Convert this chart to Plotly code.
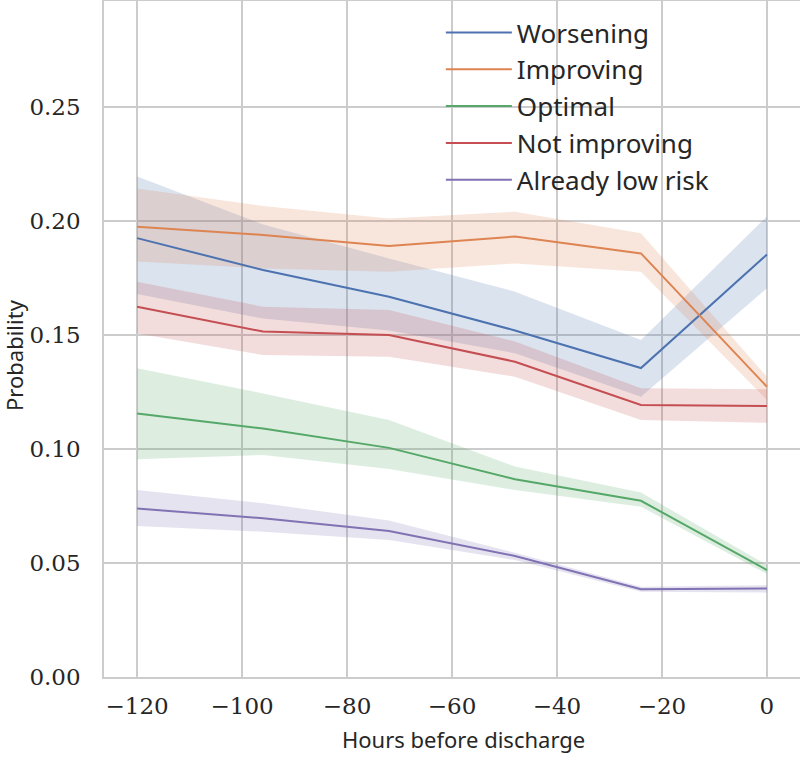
import plotly.graph_objects as go

hours = [-120, -96, -72, -48, -24, 0]

series_names = ["Worsening", "Improving", "Optimal", "Not improving", "Already low risk"]
colors = ["#4C72B0", "#DD8452", "#55A868", "#C44E52", "#8172B3"]
fills = ["rgba(76,114,176,0.2)", "rgba(221,132,82,0.2)", "rgba(85,168,104,0.2)",
         "rgba(196,78,82,0.2)", "rgba(129,114,179,0.2)"]

worsening = [0.1925, 0.1785, 0.1668, 0.1520, 0.1355, 0.1853]
worsening_hi = [0.2195, 0.1985, 0.1836, 0.1690, 0.1478, 0.2020]
worsening_lo = [0.1680, 0.1572, 0.1520, 0.1420, 0.1229, 0.1705]

improving = [0.1975, 0.1939, 0.1890, 0.1932, 0.1858, 0.1273]
improving_hi = [0.2143, 0.2066, 0.2011, 0.2041, 0.1946, 0.1317]
improving_lo = [0.1822, 0.1792, 0.1778, 0.1814, 0.1778, 0.1215]

optimal = [0.1156, 0.1090, 0.1005, 0.0867, 0.0773, 0.0469]
optimal_hi = [0.1354, 0.1244, 0.1127, 0.0923, 0.0809, 0.0491]
optimal_lo = [0.0955, 0.0974, 0.0912, 0.0820, 0.0747, 0.0452]

not_improving = [0.1624, 0.1515, 0.1500, 0.1383, 0.1193, 0.1189]
not_improving_hi = [0.1734, 0.1624, 0.1610, 0.1471, 0.1266, 0.1262]
not_improving_lo = [0.1507, 0.1412, 0.1405, 0.1317, 0.1127, 0.1115]

low_risk = [0.0739, 0.0696, 0.0640, 0.0531, 0.0385, 0.0388]
low_risk_hi = [0.0820, 0.0762, 0.0686, 0.0545, 0.0396, 0.0403]
low_risk_lo = [0.0662, 0.0637, 0.0601, 0.0513, 0.0374, 0.0370]

means = [worsening, improving, optimal, not_improving, low_risk]
his = [worsening_hi, improving_hi, optimal_hi, not_improving_hi, low_risk_hi]
los = [worsening_lo, improving_lo, optimal_lo, not_improving_lo, low_risk_lo]

x_ticks = [-120, -100, -80, -60, -40, -20, 0]
x_tick_labels = ["\u2212120", "\u2212100", "\u221280", "\u221260", "\u221240", "\u221220", "0"]
y_ticks = [0.0, 0.05, 0.10, 0.15, 0.20, 0.25]
y_tick_labels = ["0.00", "0.05", "0.10", "0.15", "0.20", "0.25"]

fig = go.Figure()

for name, c, f, m, hi, lo in zip(series_names, colors, fills, means, his, los):
    fig.add_trace(go.Scatter(
        x=hours + hours[::-1], y=hi + lo[::-1], fill="toself", fillcolor=f,
        line=dict(width=0), mode="lines", showlegend=False, hoverinfo="skip"))

for name, c, m in zip(series_names, colors, means):
    fig.add_trace(go.Scatter(x=hours, y=m, mode="lines", name=name,
                             line=dict(color=c, width=2)))

axis_common = dict(showgrid=True, gridcolor="#cccccc", gridwidth=1.5,
                   showline=True, linecolor="#cccccc", linewidth=1.5, mirror=True,
                   zeroline=False, ticks="", automargin=False,
                   tickfont=dict(family="DejaVu Serif", size=23, color="#262626"))

fig.update_xaxes(range=[-126.3, 6.3], tickvals=x_ticks, ticktext=x_tick_labels,
                 ticklabelstandoff=8, **axis_common)
fig.update_yaxes(range=[0, 0.2965], tickvals=y_ticks, ticktext=y_tick_labels,
                 ticklabelstandoff=17, **axis_common)

title_font = dict(family="Noto Sans", size=22, color="#262626")
fig.add_annotation(text="Hours before discharge", xref="paper", yref="paper",
                   x=(463 - 104) / 696, y=-(739 - 677) / 676,
                   xanchor="center", yanchor="middle", showarrow=False, font=title_font)
fig.add_annotation(text="Probability", xref="paper", yref="paper",
                   x=(14 - 104) / 696, y=(677 - 355) / 676, textangle=-90,
                   xanchor="center", yanchor="middle", showarrow=False, font=title_font)

fig.update_layout(
    width=800, height=759,
    margin=dict(l=104, r=0, t=1, b=82),
    plot_bgcolor="white", paper_bgcolor="white",
    legend=dict(x=0.484, y=0.988, xanchor="left", yanchor="top",
                bgcolor="rgba(255,255,255,0)",
                font=dict(family="Noto Sans", size=26, color="#262626"),
                itemwidth=66, tracegroupgap=0),
)

fig.write_html("out.html", config={"displayModeBar": False},
               post_script="document.body.style.margin='0';document.body.style.overflow='hidden';")
